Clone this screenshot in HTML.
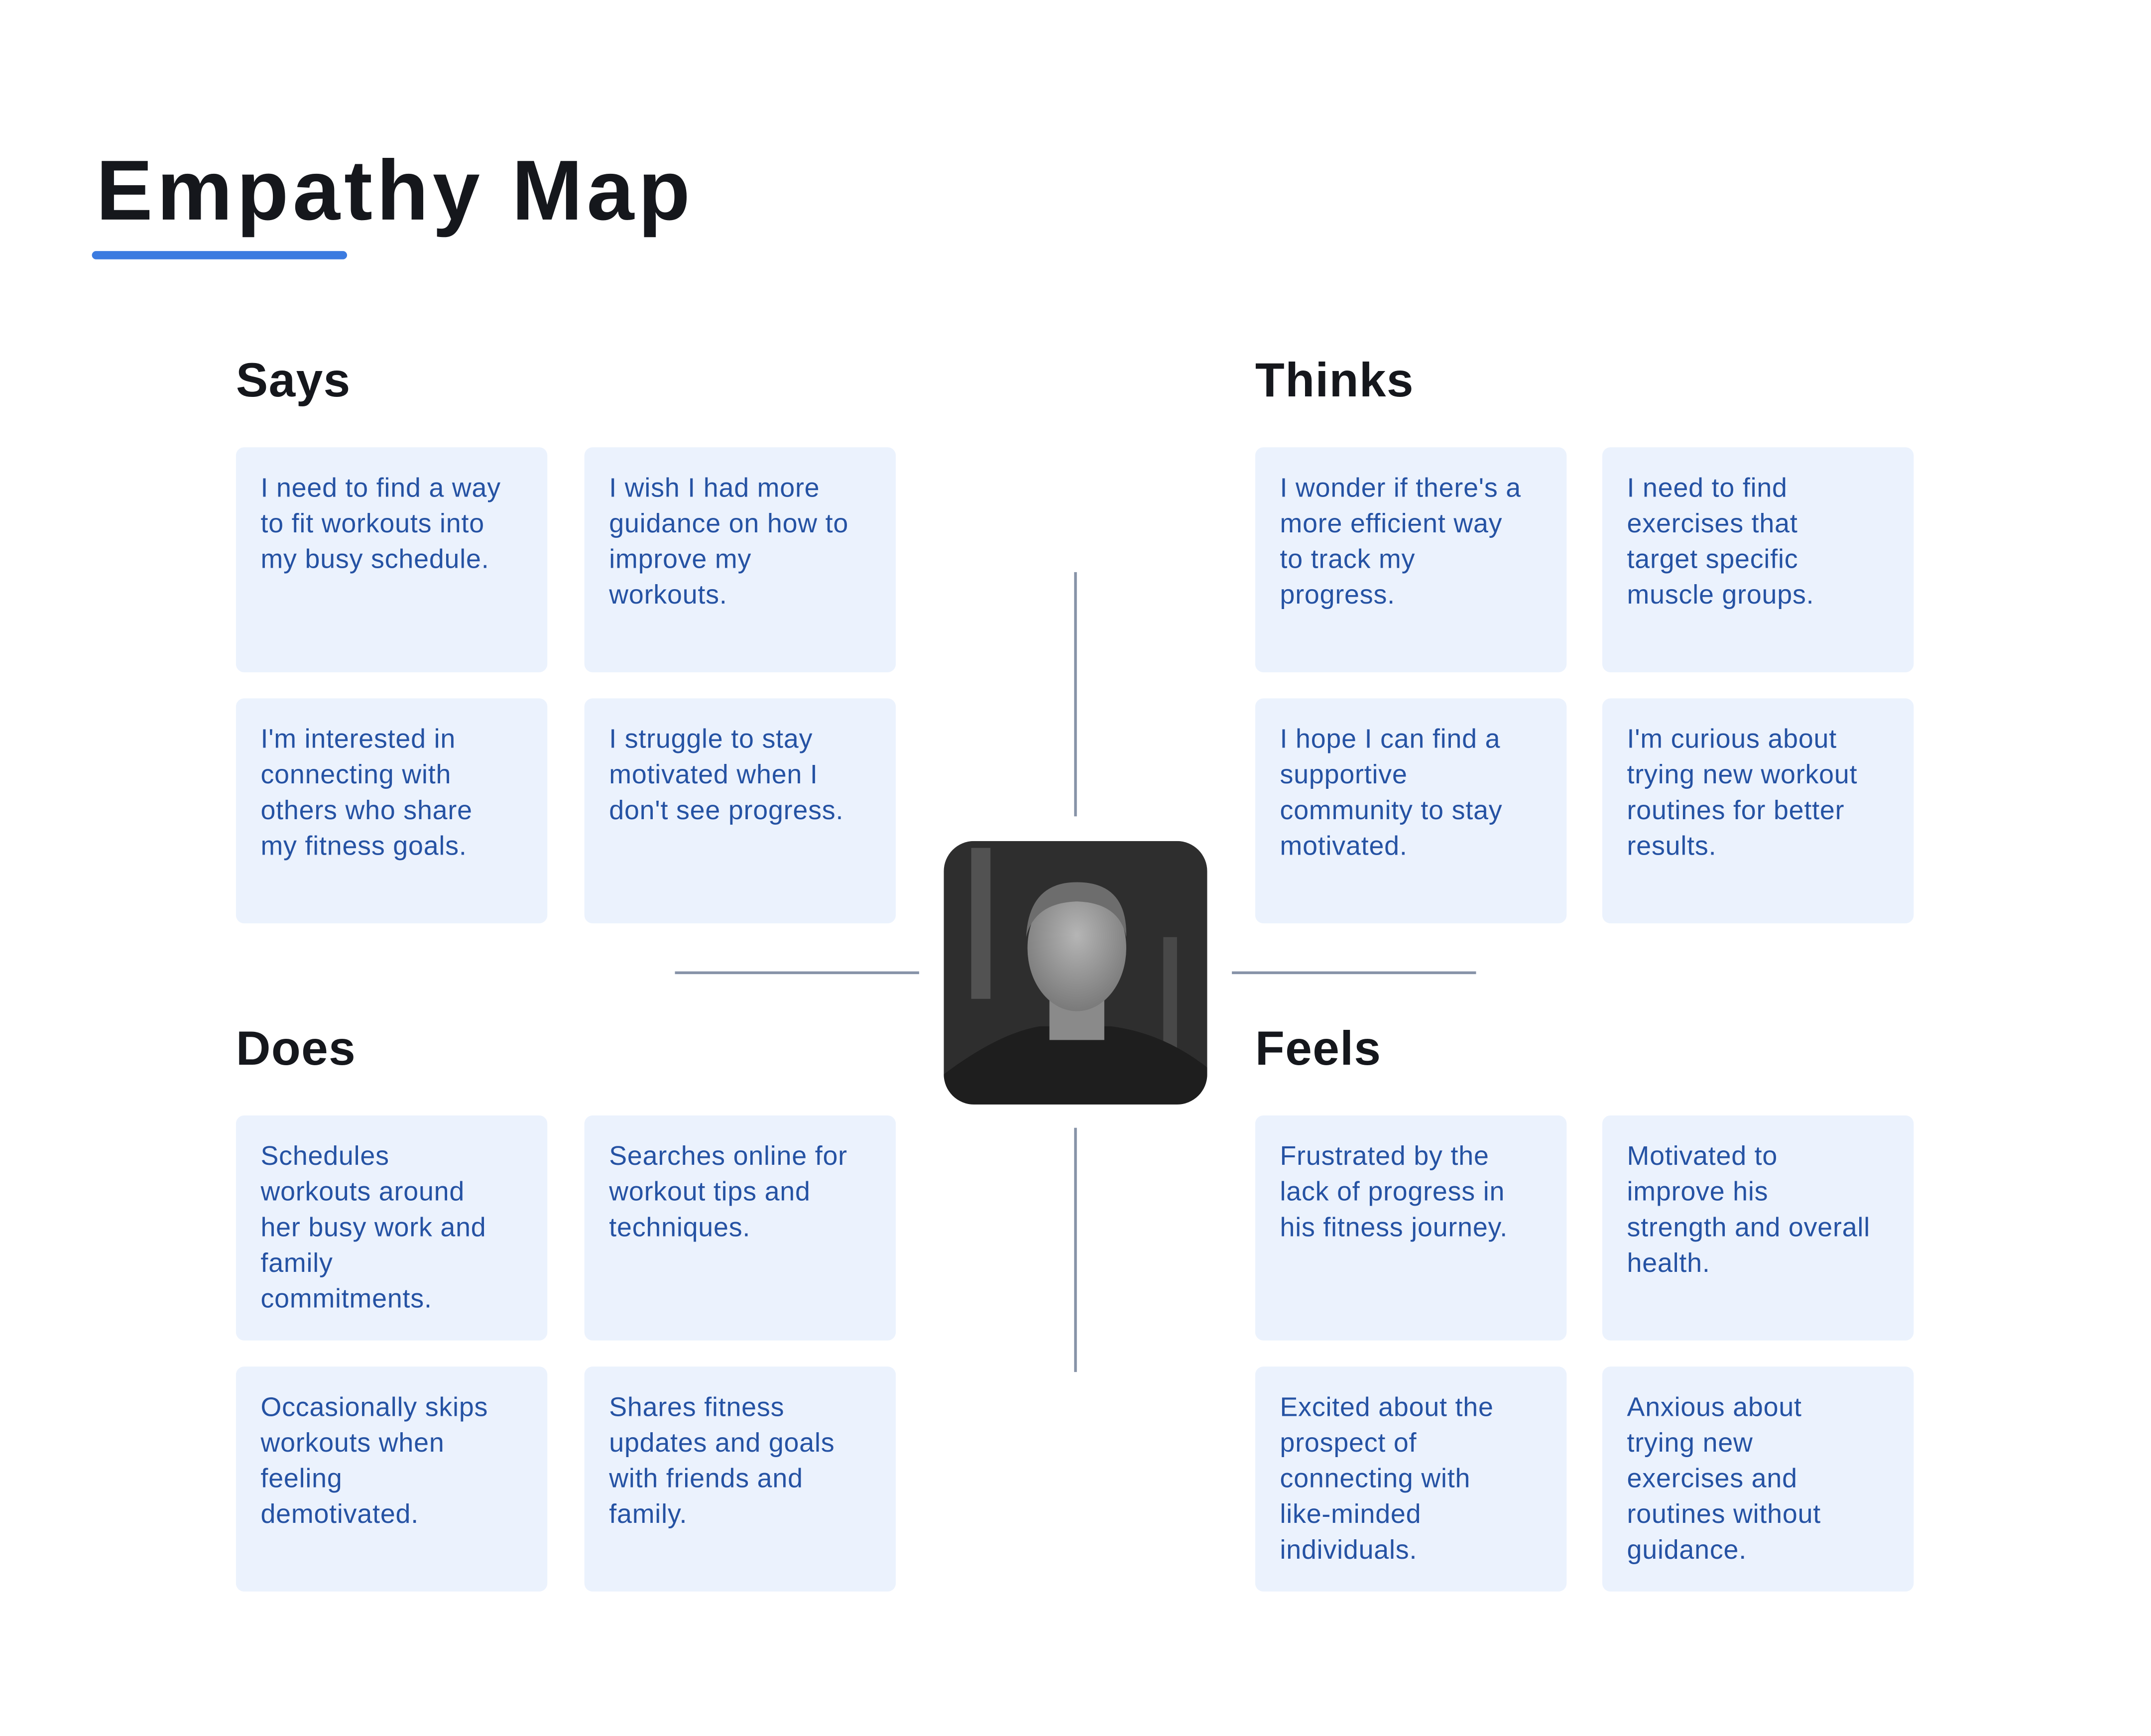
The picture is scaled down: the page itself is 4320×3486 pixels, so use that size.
<!DOCTYPE html>
<html><head><meta charset="utf-8"><style>
html,body{margin:0;padding:0;background:#fff;}
#w{position:relative;width:1568px;height:1265.3px;transform:scale(2.7551);transform-origin:0 0;font-family:"Liberation Sans",sans-serif;}
.t{position:absolute;left:70px;top:104px;font-size:62px;font-weight:bold;color:#15171c;letter-spacing:3px;}
.u{position:absolute;left:67px;top:183px;width:186px;height:6px;border-radius:3px;background:#3b7be0;}
.h{position:absolute;font-size:35px;font-weight:bold;color:#15171c;letter-spacing:0.5px;}
.c{position:absolute;width:227px;height:164px;background:#ebf2fd;border-radius:6px;box-sizing:border-box;padding:17px 0 0 18px;color:#2552a3;font-size:19.5px;line-height:26px;letter-spacing:0.3px;white-space:nowrap;}
.lv{position:absolute;width:1.5px;background:#8793a8;}
.lh{position:absolute;height:1.5px;background:#8793a8;}
</style></head><body><div id="w">
<div class="t">Empathy Map</div><div class="u"></div>
<div class="h" style="left:172px;top:258px">Says</div>
<div class="h" style="left:915px;top:258px">Thinks</div>
<div class="h" style="left:172px;top:745px">Does</div>
<div class="h" style="left:915px;top:745px">Feels</div>

<div class="c" style="left:172px;top:326px">I need to find a way<br>to fit workouts into<br>my busy schedule.</div>
<div class="c" style="left:426px;top:326px">I wish I had more<br>guidance on how to<br>improve my<br>workouts.</div>
<div class="c" style="left:172px;top:509px">I'm interested in<br>connecting with<br>others who share<br>my fitness goals.</div>
<div class="c" style="left:426px;top:509px">I struggle to stay<br>motivated when I<br>don't see progress.</div>

<div class="c" style="left:915px;top:326px">I wonder if there's a<br>more efficient way<br>to track my<br>progress.</div>
<div class="c" style="left:1168px;top:326px">I need to find<br>exercises that<br>target specific<br>muscle groups.</div>
<div class="c" style="left:915px;top:509px">I hope I can find a<br>supportive<br>community to stay<br>motivated.</div>
<div class="c" style="left:1168px;top:509px">I'm curious about<br>trying new workout<br>routines for better<br>results.</div>

<div class="c" style="left:172px;top:813px">Schedules<br>workouts around<br>her busy work and<br>family<br>commitments.</div>
<div class="c" style="left:426px;top:813px">Searches online for<br>workout tips and<br>techniques.</div>
<div class="c" style="left:172px;top:996px">Occasionally skips<br>workouts when<br>feeling<br>demotivated.</div>
<div class="c" style="left:426px;top:996px">Shares fitness<br>updates and goals<br>with friends and<br>family.</div>

<div class="c" style="left:915px;top:813px">Frustrated by the<br>lack of progress in<br>his fitness journey.</div>
<div class="c" style="left:1168px;top:813px">Motivated to<br>improve his<br>strength and overall<br>health.</div>
<div class="c" style="left:915px;top:996px">Excited about the<br>prospect of<br>connecting with<br>like-minded<br>individuals.</div>
<div class="c" style="left:1168px;top:996px">Anxious about<br>trying new<br>exercises and<br>routines without<br>guidance.</div>

<div class="lv" style="left:783px;top:417px;height:178px"></div>
<div class="lv" style="left:783px;top:822px;height:178px"></div>
<div class="lh" style="left:492px;top:708px;width:178px"></div>
<div class="lh" style="left:898px;top:708px;width:178px"></div>

<svg style="position:absolute;left:688px;top:613px" width="192" height="192" viewBox="0 0 192 192">
<defs><clipPath id="cp"><rect width="192" height="192" rx="22"/></clipPath>
<radialGradient id="fg" cx="50%" cy="40%" r="60%"><stop offset="0" stop-color="#b5b5b5"/><stop offset="1" stop-color="#7a7a7a"/></radialGradient></defs>
<g clip-path="url(#cp)">
<rect width="192" height="192" fill="#2e2e2e"/>
<rect x="20" y="5" width="14" height="110" fill="#6a6a6a" opacity=".6"/>
<rect x="160" y="70" width="10" height="90" fill="#5a5a5a" opacity=".6"/>
<path d="M0 170 Q40 140 70 135 L122 135 Q160 140 192 165 L192 192 L0 192Z" fill="#1e1e1e"/>
<rect x="77" y="105" width="40" height="40" fill="#8a8a8a"/>
<ellipse cx="97" cy="78" rx="36" ry="46" fill="url(#fg)"/>
<path d="M60 70 Q62 30 97 30 Q134 30 133 70 Q128 45 97 44 Q66 45 60 70Z" fill="#6d6d6d"/>
</g></svg>
</div></body></html>
